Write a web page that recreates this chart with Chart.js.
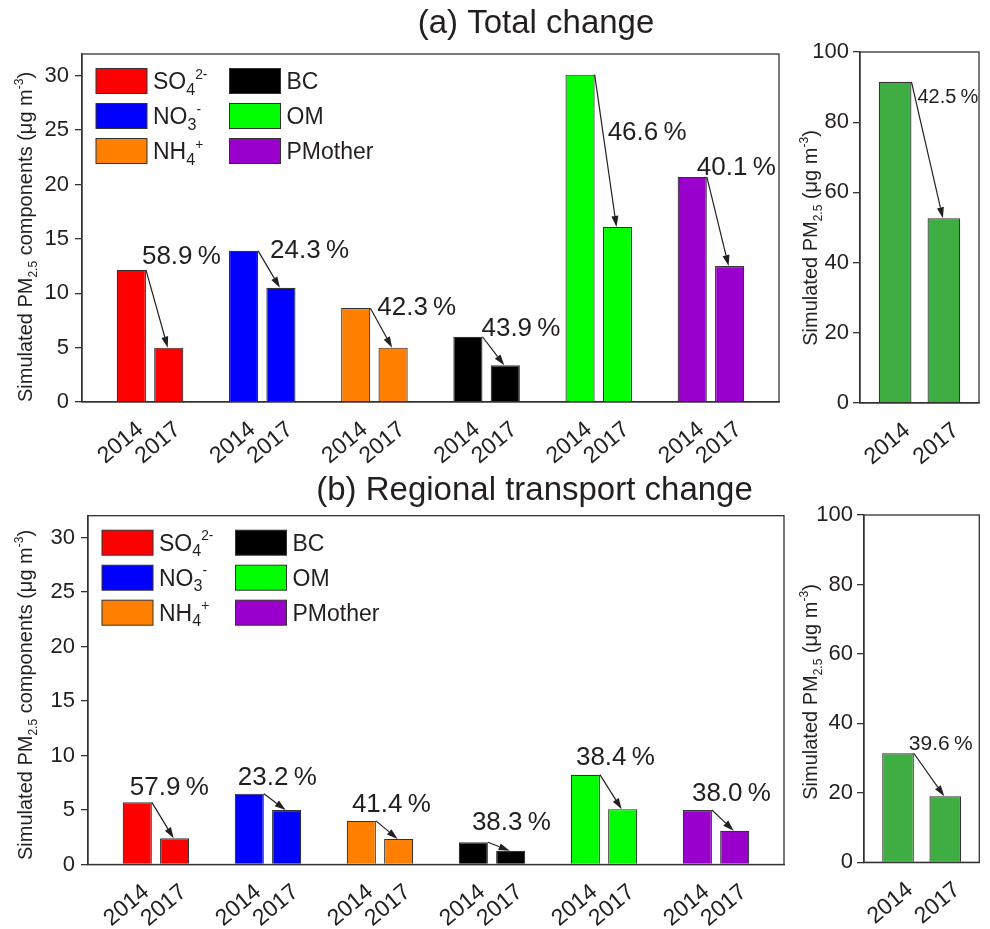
<!DOCTYPE html>
<html>
<head>
<meta charset="utf-8">
<title>Simulated PM2.5 change</title>
<script src="https://cdn.jsdelivr.net/npm/chart.js"></script>
<style>
  body { margin: 0; background: #fff; }
  #wrap { position: relative; width: 990px; height: 929px; }
  #wrap canvas { position: absolute; }
</style>
</head>
<body>
<div id="wrap">
  <canvas id="compA" width="790" height="470" style="left:0;top:0"></canvas>
  <canvas id="totalA" width="200" height="470" style="left:790px;top:0"></canvas>
  <canvas id="compB" width="790" height="459" style="left:0;top:470px"></canvas>
  <canvas id="totalB" width="200" height="459" style="left:790px;top:470px"></canvas>
</div>
<script>
// Data (ug m-3)
const components = ['SO_{4}^{2-}', 'NO_{3}^{-}', 'NH_{4}^{+}', 'BC', 'OM', 'PMother'];
const componentColors = ['#ff0000', '#0000ff', '#ff8000', '#000000', '#00ff00', '#9900cc'];
const years = ['2014', '2017'];

// (a) Total change
const totalComp2014 = [12.15, 13.9, 8.65, 6.0, 30.1, 20.7];
const totalComp2017 = [5.0, 10.5, 5.0, 3.37, 16.1, 12.5];
const totalCompPct = ['58.9', '24.3', '42.3', '43.9', '46.6', '40.1'];
const totalPm = [91.5, 52.6];
const totalPmPct = '42.5';

// (b) Regional transport change
const regionalComp2014 = [5.7, 6.5, 4.0, 2.04, 8.24, 5.0];
const regionalComp2017 = [2.4, 5.0, 2.35, 1.26, 5.08, 3.1];
const regionalCompPct = ['57.9', '23.2', '41.4', '38.3', '38.4', '38.0'];
const regionalPm = [31.4, 19.0];
const regionalPmPct = '39.6';

const compTicks = [0, 5, 10, 15, 20, 25, 30];
const pmTicks = [0, 20, 40, 60, 80, 100];

const FONT = '"Liberation Sans", Arial, Helvetica, sans-serif';
const INK = '#231f20';
const EDGE = '#333333';

// parse "PM_{2.5}" / "m^{-3}" style markup into runs
function parseRich(s) {
    const out = [];
    let buf = '';
    let i = 0;
    while (i < s.length) {
        const c = s[i];
        if ((c === '_' || c === '^') && s[i + 1] === '{') {
            if (buf) { out.push({ t: buf, k: 0 }); buf = ''; }
            const end = s.indexOf('}', i);
            out.push({ t: s.slice(i + 2, end), k: c === '_' ? -1 : 1 });
            i = end + 1;
        } else {
            buf += c;
            i++;
        }
    }
    if (buf) out.push({ t: buf, k: 0 });
    return out;
}

function drawRich(ctx, s, x, y, size, align, subScale, supScale) {
    const runs = parseRich(s);
    let w = 0;
    runs.forEach(r => {
        r.size = r.k === -1 ? size * subScale : r.k === 1 ? size * supScale : size;
        ctx.font = r.size + 'px ' + FONT;
        r.w = ctx.measureText(r.t).width;
        w += r.w;
    });
    let cx = align === 'center' ? x - w / 2 : x;
    ctx.textAlign = 'left';
    ctx.textBaseline = 'alphabetic';
    runs.forEach(r => {
        ctx.font = r.size + 'px ' + FONT;
        const dy = r.k === -1 ? size * 0.24 : r.k === 1 ? -size * 0.45 : 0;
        ctx.fillText(r.t, cx, y + dy);
        cx += r.w;
    });
}

function drawArrow(ctx, x1, y1, x2, y2) {
    const ang = Math.atan2(y2 - y1, x2 - x1);
    const len = 11, half = 3.5;
    const bx = x2 - Math.cos(ang) * len, by = y2 - Math.sin(ang) * len;
    ctx.strokeStyle = INK;
    ctx.fillStyle = INK;
    ctx.lineWidth = 1.2;
    ctx.beginPath();
    ctx.moveTo(x1, y1);
    ctx.lineTo(bx, by);
    ctx.stroke();
    ctx.beginPath();
    ctx.moveTo(x2, y2);
    ctx.lineTo(bx - Math.sin(ang) * half, by + Math.cos(ang) * half);
    ctx.lineTo(bx + Math.sin(ang) * half, by - Math.cos(ang) * half);
    ctx.closePath();
    ctx.fill();
}

// frame, titles, legend, arrows and percentage labels
function makeDecor(cfg) {
    return {
        id: 'decor',
        afterDraw(chart) {
            const ctx = chart.ctx;
            const a = chart.chartArea;
            ctx.save();
            ctx.strokeStyle = EDGE;
            ctx.lineWidth = 1.3;
            ctx.strokeRect(a.left, a.top, a.right - a.left, a.bottom - a.top);

            ctx.fillStyle = INK;
            if (cfg.title) {
                ctx.font = '33px ' + FONT;
                ctx.textAlign = 'center';
                ctx.textBaseline = 'alphabetic';
                ctx.fillText(cfg.title, cfg.titleX, cfg.titleY);
            }

            // y axis title
            ctx.save();
            ctx.translate(cfg.yTitleX, cfg.yTitleY);
            ctx.rotate(-Math.PI / 2);
            drawRich(ctx, cfg.yTitle, 0, 0, 20, 'center', 0.6, 0.6);
            ctx.restore();

            // legend, two columns of three
            if (cfg.legend) {
                components.forEach((name, i) => {
                    const col = Math.floor(i / 3), row = i % 3;
                    const bx = a.left + 14 + col * 133.5;
                    const by = a.top + 14.5 + row * 35;
                    ctx.fillStyle = componentColors[i];
                    ctx.fillRect(bx, by, 51, 25);
                    ctx.strokeStyle = EDGE;
                    ctx.lineWidth = 1;
                    ctx.strokeRect(bx, by, 51, 25);
                    ctx.fillStyle = INK;
                    drawRich(ctx, name, bx + 57, by + 12.5 + 8, 23, 'left', 0.7, 0.6);
                });
            }

            // arrows from 2014 bar to 2017 bar with the reduction label
            const bars = chart.getDatasetMeta(0).data;
            cfg.pct.forEach((p, i) => {
                const b1 = bars[2 * i], b2 = bars[2 * i + 1];
                const r1 = b1.x + b1.width / 2;
                drawArrow(ctx, r1, b1.y, b2.x - 1, b2.y);
                ctx.fillStyle = INK;
                ctx.font = cfg.pctSize + 'px ' + FONT;
                ctx.textAlign = 'left';
                ctx.textBaseline = 'alphabetic';
                const off = cfg.pctOffsets[i];
                ctx.fillText(p + '\u2009%', r1 + off[0], b1.y + off[1]);
            });
            ctx.restore();
        }
    };
}

function baseScales(cfg) {
    return {
        x: {
            type: 'linear',
            offset: false,
            min: cfg.xMin,
            max: cfg.xMax,
            afterBuildTicks: s => { s.ticks = cfg.xTicks.map(v => ({ value: v })); },
            afterFit: s => { s.height = cfg.xHeight; },
            grid: { display: false },
            border: { display: true, color: EDGE, width: 1.3 },
            ticks: {
                autoSkip: false,
                minRotation: 40,
                maxRotation: 40,
                padding: 6,
                labelOffset: cfg.xLabelOffset,
                color: INK,
                font: { family: FONT, size: 23 },
                callback: cfg.xLabel
            }
        },
        y: {
            min: 0,
            max: cfg.yMax,
            afterBuildTicks: s => { s.ticks = cfg.yTicks.map(v => ({ value: v })); },
            afterFit: s => { s.width = cfg.yWidth; },
            grid: { drawOnChartArea: false, drawTicks: true, tickLength: 7, color: EDGE, lineWidth: 1.3 },
            border: { display: true, color: EDGE, width: 1.3 },
            ticks: { padding: cfg.yPad, color: INK, font: { family: FONT, size: 22 } }
        }
    };
}

function componentChart(id, v2014, v2017, pct, cfg) {
    const points = [];
    const colors = [];
    components.forEach((c, i) => {
        points.push({ x: 3 * i + 1, y: v2014[i] }, { x: 3 * i + 2, y: v2017[i] });
        colors.push(componentColors[i], componentColors[i]);
    });
    const layout = Object.assign({
        xMin: -0.32, xMax: 18.32,
        xTicks: points.map(p => p.x),
        xLabel: v => years[(v - 1) % 3],
        xLabelOffset: 9,
        yMax: 32, yTicks: compTicks, yPad: 6, legend: true, pct: pct
    }, cfg);
    return new Chart(document.getElementById(id).getContext('2d'), {
        type: 'bar',
        data: {
            datasets: [{
                data: points,
                backgroundColor: colors,
                borderColor: EDGE,
                borderWidth: 1.2,
                barPercentage: 0.78,
                categoryPercentage: 1
            }]
        },
        options: {
            responsive: false,
            animation: false,
            layout: { padding: { top: layout.padTop, right: layout.padRight, left: 0, bottom: 0 } },
            plugins: { legend: { display: false }, tooltip: { enabled: false } },
            scales: baseScales(layout)
        },
        plugins: [makeDecor(layout)]
    });
}

function totalChart(id, values, pct, cfg) {
    const layout = Object.assign({
        xMin: -0.72, xMax: 1.72,
        xTicks: [0, 1],
        xLabel: v => years[v],
        xLabelOffset: 12,
        yMax: 100, yTicks: pmTicks, yPad: 4, legend: false, pct: [pct]
    }, cfg);
    return new Chart(document.getElementById(id).getContext('2d'), {
        type: 'bar',
        data: {
            datasets: [{
                data: values.map((v, i) => ({ x: i, y: v })),
                backgroundColor: '#3fae42',
                borderColor: EDGE,
                borderWidth: 1.2,
                barPercentage: 0.67,
                categoryPercentage: 1
            }]
        },
        options: {
            responsive: false,
            animation: false,
            layout: { padding: { top: layout.padTop, right: layout.padRight, left: 0, bottom: 0 } },
            plugins: { legend: { display: false }, tooltip: { enabled: false } },
            scales: baseScales(layout)
        },
        plugins: [makeDecor(layout)]
    });
}

const compTitle = 'Simulated PM_{2.5} components (\u03bcg m^{-3})';
const pmTitle = 'Simulated PM_{2.5} (\u03bcg m^{-3})';

componentChart('compA', totalComp2014, totalComp2017, totalCompPct, {
    padTop: 54, padRight: 11, yWidth: 82, xHeight: 68,
    title: '(a) Total change', titleX: 536, titleY: 33,
    yTitle: compTitle, yTitleX: 32, yTitleY: 237,
    pctSize: 26,
    pctOffsets: [[-4, -6], [12, 7], [7, 7], [-1, -1], [13, 65], [-10, -2]]
});

totalChart('totalA', totalPm, totalPmPct, {
    padTop: 52, padRight: 11, yWidth: 70, xHeight: 67,
    yTitle: pmTitle, yTitleX: 27, yTitleY: 238,
    pctSize: 20,
    pctOffsets: [[6, 21]]
});

componentChart('compB', regionalComp2014, regionalComp2017, regionalCompPct, {
    padTop: 45.7, padRight: 6, yWidth: 88, xHeight: 64.5,
    title: '(b) Regional transport change', titleX: 534.5, titleY: 30,
    yTitle: compTitle, yTitleX: 32, yTitleY: 225,
    pctSize: 26,
    pctOffsets: [[-22, -7], [-26, -9], [-24, -9], [-16, -12], [-24, -10], [-20, -9]]
});

totalChart('totalB', regionalPm, regionalPmPct, {
    padTop: 45, padRight: 10.7, yWidth: 74, xHeight: 66.7,
    yTitle: pmTitle, yTitleX: 27, yTitleY: 222,
    pctSize: 21,
    pctOffsets: [[-5, -3]]
});
</script>
</body>
</html>
